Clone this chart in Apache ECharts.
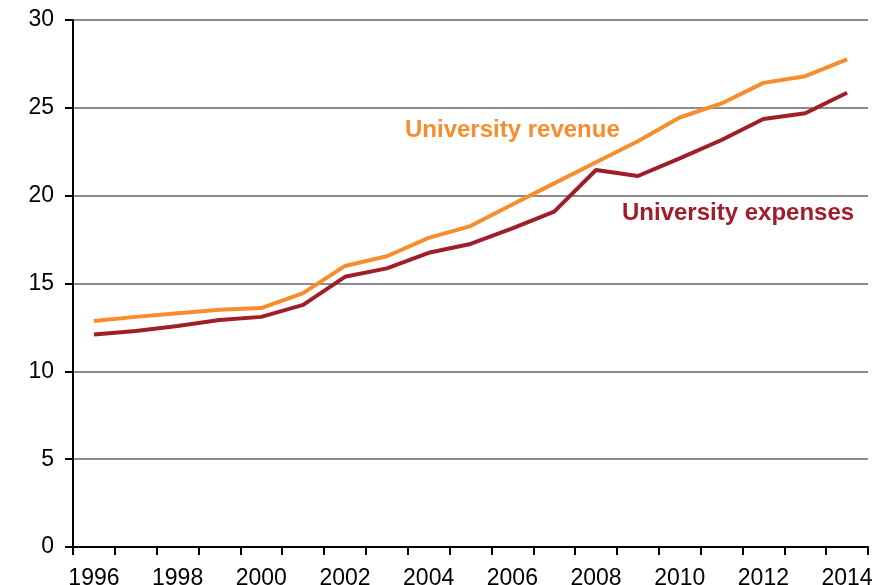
<!DOCTYPE html>
<html>
<head>
<meta charset="utf-8">
<script src="https://cdn.jsdelivr.net/npm/echarts@6/dist/echarts.min.js"></script>
<style>html,body{margin:0;padding:0;background:#fff}#c{width:888px;height:585px}</style>
</head>
<body>
<div id="c"></div>
<script>
var years = ['1996','1997','1998','1999','2000','2001','2002','2003','2004','2005','2006','2007','2008','2009','2010','2011','2012','2013','2014'];
var revenue = [12.87, 13.1, 13.3, 13.5, 13.6, 14.45, 16.0, 16.55, 17.6, 18.27, 19.5, 20.7, 21.9, 23.1, 24.45, 25.25, 26.42, 26.8, 27.76];
var expenses = [12.1, 12.3, 12.58, 12.92, 13.1, 13.78, 15.38, 15.86, 16.75, 17.25, 18.14, 19.09, 21.46, 21.12, 22.12, 23.17, 24.36, 24.69, 25.86];
var yTicks = [0, 5, 10, 15, 20, 25, 30];
var revenueName = 'University revenue';
var expensesName = 'University expenses';

var chart = echarts.init(document.getElementById('c'), null, {renderer: 'canvas'});
var font = 'Liberation Sans, Arial, sans-serif';
chart.setOption({
  animation: false,
  backgroundColor: '#ffffff',
  grid: {left: 73, right: 20, top: 20, bottom: 38, containLabel: false, outerBoundsMode: 'none'},
  xAxis: {
    type: 'category',
    data: years,
    boundaryGap: true,
    axisLine: {lineStyle: {color: '#000', width: 2}},
    axisTick: {show: true, interval: 0, length: 8, lineStyle: {color: '#000', width: 2}},
    axisLabel: {interval: 1, margin: 20, color: '#000', fontSize: 23, fontFamily: font},
    splitLine: {show: false}
  },
  yAxis: {
    type: 'value',
    min: yTicks[0],
    max: yTicks[yTicks.length - 1],
    interval: 5,
    axisLine: {show: true, lineStyle: {color: '#000', width: 2}},
    axisTick: {show: true, length: 8, lineStyle: {color: '#000', width: 2}},
    axisLabel: {margin: 19, color: '#000', fontSize: 23, fontFamily: font},
    splitLine: {show: true, lineStyle: {color: '#8c8c8c', width: 2}}
  },
  series: [
    {name: revenueName, type: 'line', data: revenue, symbol: 'none', z: 3,
     lineStyle: {color: '#F78D2D', width: 4}},
    {name: expensesName, type: 'line', data: expenses, symbol: 'none', z: 4,
     lineStyle: {color: '#A01E2A', width: 4}}
  ],
  graphic: [
    {type: 'text', left: 405, top: 118, style: {text: revenueName, fill: '#F78D2D', font: 'bold 24px ' + font}},
    {type: 'text', left: 622, top: 201, style: {text: expensesName, fill: '#A01E2A', font: 'bold 24px ' + font}}
  ]
});
</script>
</body>
</html>
